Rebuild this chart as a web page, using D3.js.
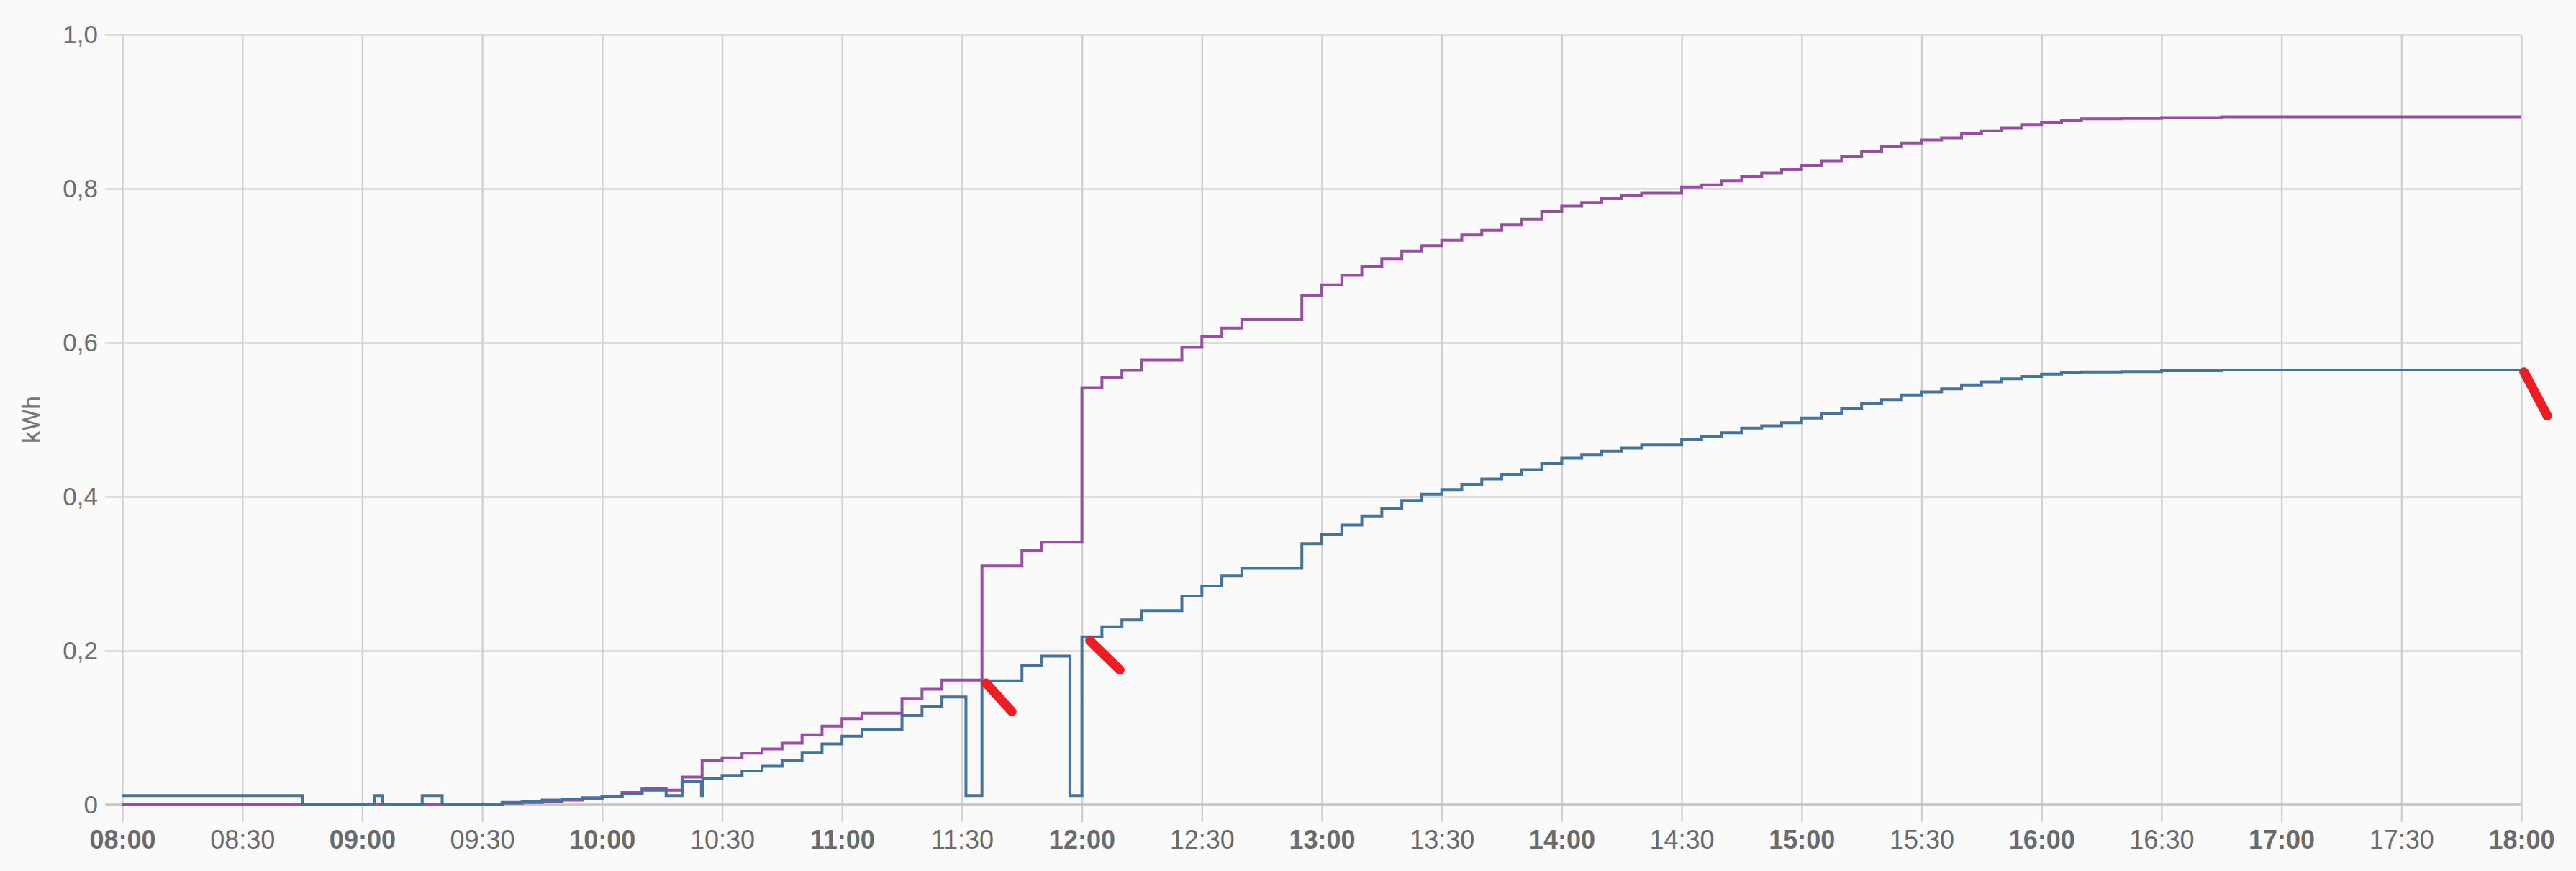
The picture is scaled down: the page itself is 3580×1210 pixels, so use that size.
<!DOCTYPE html>
<html><head><meta charset="utf-8">
<script src="https://cdn.jsdelivr.net/npm/d3@7"></script>
<style>html,body{margin:0;background:#fafafa;} svg{display:block;font-family:Roboto,sans-serif;}</style>
</head><body><svg id="c" width="3580" height="1210"></svg>
<script>
// ---- data ----
const blueTimes = ["08:00","08:45","09:03","09:05","09:15","09:20","09:35","09:40","09:45","09:50","09:55",
 "10:00","10:05","10:10","10:16","10:20","10:24:50","10:25:10","10:30","10:35","10:40","10:45","10:50","10:55",
 "11:00","11:05","11:15","11:20","11:25","11:31","11:35","11:45","11:50","11:57",
 "12:00","12:05","12:10","12:15","12:25","12:30","12:35","12:40","12:55",
 "13:00","13:05","13:10","13:15","13:20","13:25","13:30","13:35","13:40","13:45","13:50","13:55",
 "14:00","14:05","14:10","14:15","14:20","14:30","14:35","14:40","14:45","14:50","14:55",
 "15:00","15:05","15:10","15:15","15:20","15:25","15:30","15:35","15:40","15:45","15:50","15:55",
 "16:00","16:05","16:10","16:20","16:30","16:45","18:00"];
const blueValues = [0.012,0,0.012,0,0.012,0,0.003,0.0045,0.006,0.0075,0.009,
 0.011,0.014,0.019,0.012,0.030,0.012,0.034,0.038,0.044,0.050,0.057,0.068,0.079,
 0.089,0.0975,0.116,0.127,0.140,0.012,0.161,0.181,0.193,0.012,
 0.218,0.231,0.240,0.252,0.271,0.284,0.297,0.307,0.339,
 0.351,0.363,0.375,0.385,0.395,0.403,0.409,0.416,0.423,0.429,0.435,0.443,
 0.450,0.454,0.459,0.463,0.467,0.474,0.478,0.483,0.489,0.492,0.496,
 0.502,0.508,0.514,0.521,0.526,0.532,0.536,0.540,0.545,0.549,0.553,0.556,
 0.559,0.561,0.562,0.5625,0.5635,0.5645,0.5645];

const purpleTimes = ["08:00","09:35","09:40","09:45","09:50","09:55",
 "10:00","10:05","10:10","10:16","10:20","10:25","10:30","10:35","10:40","10:45","10:50","10:55",
 "11:00","11:05","11:15","11:20","11:25","11:35","11:45","11:50",
 "12:00","12:05","12:10","12:15","12:25","12:30","12:35","12:40","12:55",
 "13:00","13:05","13:10","13:15","13:20","13:25","13:30","13:35","13:40","13:45","13:50","13:55",
 "14:00","14:05","14:10","14:15","14:20","14:30","14:35","14:40","14:45","14:50","14:55",
 "15:00","15:05","15:10","15:15","15:20","15:25","15:30","15:35","15:40","15:45","15:50","15:55",
 "16:00","16:05","16:10","16:20","16:30","16:45","18:00"];
const purpleValues = [0,0.002,0.003,0.004,0.006,0.008,
 0.011,0.016,0.021,0.019,0.036,0.057,0.061,0.067,0.0725,0.080,0.091,0.102,
 0.112,0.119,0.138,0.150,0.162,0.310,0.330,0.341,
 0.5415,0.555,0.564,0.577,0.594,0.6075,0.619,0.630,0.6615,
 0.675,0.6875,0.699,0.709,0.719,0.726,0.733,0.740,0.746,0.753,0.760,0.770,
 0.777,0.782,0.787,0.791,0.794,0.802,0.805,0.810,0.816,0.820,0.825,
 0.830,0.836,0.842,0.848,0.855,0.859,0.863,0.866,0.871,0.875,0.879,0.883,
 0.886,0.888,0.8905,0.891,0.892,0.893,0.893];

const yTicks = [0,0.2,0.4,0.6,0.8,1.0];
const xDomain = ["08:00","18:00"];
const yLabel = "kWh";

// hand-drawn red annotation strokes (start/end in data coords)
const annotStart = [["11:36",0.158],["12:02",0.213],["18:00:40",0.562]];
const annotEnd   = [["11:42:30",0.121],["12:09:30",0.175],["18:06:30",0.505]];

// ---- chart ----
const W=3580,H=1210,m={l:170,r:76,t:48,b:92};
const pw=W-m.l-m.r, ph=H-m.t-m.b;
const parse = s => { const p=s.split(":").map(Number); return new Date(2000,0,1,p[0],p[1],p[2]||0); };
const x = d3.scaleTime().domain(xDomain.map(parse)).range([m.l,W-m.r]);
const y = d3.scaleLinear().domain([0,1]).range([H-m.b,m.t]);
const svg = d3.select("#c");
svg.append("rect").attr("width",W).attr("height",H).attr("fill","#fafafa");

const fmtY = d => d===0 ? "0" : d3.format(".1f")(d).replace(".",",");
const gy = svg.append("g").attr("transform",`translate(${W-m.r},0)`)
  .call(d3.axisLeft(y).tickValues(yTicks).tickSize(pw+24).tickPadding(10).tickFormat(fmtY));
gy.select(".domain").remove();
gy.selectAll(".tick line").attr("stroke","#d4d4d4").attr("stroke-width",2.4);
gy.selectAll(".tick text").attr("fill","#6e6e6e").style("font-size","35px");

const gx = svg.append("g").attr("transform",`translate(0,${m.t})`)
  .call(d3.axisBottom(x).ticks(d3.timeMinute.every(30)).tickSize(ph+24).tickPadding(11)
    .tickFormat(d3.timeFormat("%H:%M")));
gx.select(".domain").remove();
gx.selectAll(".tick line").attr("stroke","#d0d0d0").attr("stroke-width",2.4);
gx.selectAll(".tick text").attr("fill","#6a6a6a").style("font-size","36px")
  .style("font-weight", d => d.getMinutes()===0 ? "bold" : "normal");

// zero line
svg.append("line").attr("x1",m.l-24).attr("x2",W-m.r).attr("y1",y(0)).attr("y2",y(0))
  .attr("stroke","#c4c4c4").attr("stroke-width",3.5);

svg.append("text").attr("transform",`translate(43,${(m.t+H-m.b)/2}) rotate(-90)`)
  .attr("text-anchor","middle").attr("dominant-baseline","central")
  .attr("fill","#777").style("font-size","34px").text(yLabel);

const line = d3.line().x(d=>x(d.t)).y(d=>y(d.v)).curve(d3.curveStepAfter);
const purple = purpleTimes.map((t,i)=>({t:parse(t),v:purpleValues[i]}));
const blue = blueTimes.map((t,i)=>({t:parse(t),v:blueValues[i]}));
svg.append("path").datum(purple).attr("d",line).attr("fill","none")
  .attr("stroke","#984ea3").attr("stroke-width",4);
svg.append("path").datum(blue).attr("d",line).attr("fill","none")
  .attr("stroke","#44739e").attr("stroke-width",4);

svg.selectAll(".annot").data(annotStart).enter().append("line")
  .attr("x1",d=>x(parse(d[0]))).attr("y1",d=>y(d[1]))
  .attr("x2",(d,i)=>x(parse(annotEnd[i][0]))).attr("y2",(d,i)=>y(annotEnd[i][1]))
  .attr("stroke","#ee1d24").attr("stroke-width",13).attr("stroke-linecap","round");
</script></body></html>
